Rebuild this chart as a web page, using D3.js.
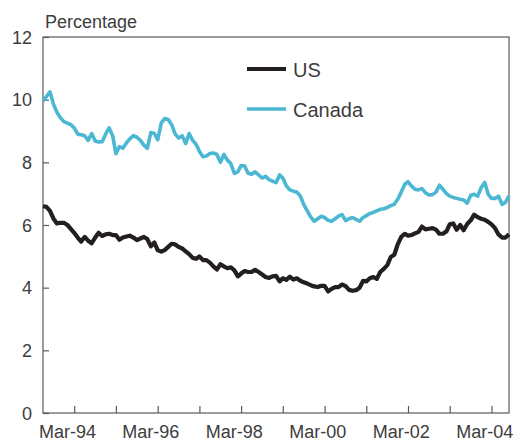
<!DOCTYPE html>
<html>
<head>
<meta charset="utf-8">
<script src="https://cdn.jsdelivr.net/npm/d3@7"></script>
<style>
  body { margin: 0; background: #fff; }
  svg { display: block; font-family: "Liberation Sans", Arial, Helvetica, sans-serif; }
  .tick-label { font-size: 18px; fill: #3d3d3d; }
  .legend-label { font-size: 20px; fill: #3d3d3d; }
</style>
</head>
<body>
<svg id="chart" width="516" height="442"></svg>
<script>
// monthly series, Jun-1993 .. Aug-2004
var firstMonth = new Date(1993, 5, 1);
var lastMonth = new Date(2004, 7, 1);

var us = [
  6.60, 6.58, 6.45, 6.20, 6.05, 6.07, 6.07, 6.00, 5.87, 5.75,
  5.60, 5.47, 5.62, 5.50, 5.42, 5.60, 5.75, 5.65, 5.70, 5.72,
  5.68, 5.68, 5.53, 5.60, 5.63, 5.66, 5.60, 5.52, 5.57, 5.62,
  5.55, 5.32, 5.44, 5.20, 5.15, 5.20, 5.30, 5.40, 5.38, 5.30,
  5.25, 5.16, 5.07, 4.95, 4.92, 5.00, 4.88, 4.88, 4.80, 4.68,
  4.58, 4.75, 4.68, 4.62, 4.65, 4.55, 4.36, 4.45, 4.53, 4.50,
  4.50, 4.57, 4.50, 4.42, 4.34, 4.31, 4.36, 4.38, 4.20, 4.30,
  4.25, 4.35, 4.26, 4.30, 4.22, 4.17, 4.13, 4.08, 4.04, 4.02,
  4.06, 4.06, 3.88, 3.96, 4.02, 4.02, 4.10, 4.05, 3.93, 3.90,
  3.92, 4.00, 4.22, 4.20, 4.30, 4.34, 4.28, 4.50, 4.60, 4.72,
  4.98, 5.05, 5.38, 5.62, 5.72, 5.66, 5.68, 5.73, 5.78, 5.95,
  5.86, 5.88, 5.90, 5.85, 5.72, 5.72, 5.80, 6.02, 6.05, 5.85,
  6.00, 5.83, 6.03, 6.15, 6.33, 6.25, 6.20, 6.17, 6.10, 6.02,
  5.90, 5.70, 5.60, 5.60, 5.70
];

var canada = [
  9.95, 10.10, 10.25, 9.85, 9.60, 9.42, 9.30, 9.25, 9.20, 9.10,
  8.90, 8.88, 8.85, 8.70, 8.92, 8.68, 8.65, 8.66, 8.90, 9.10,
  8.85, 8.28, 8.50, 8.45, 8.62, 8.75, 8.85, 8.80, 8.70, 8.55,
  8.45, 8.95, 8.92, 8.72, 9.25, 9.40, 9.37, 9.20, 8.90, 8.78,
  8.85, 8.60, 8.92, 8.70, 8.57, 8.35, 8.18, 8.20, 8.28, 8.30,
  8.25, 8.00, 8.25, 8.07, 7.96, 7.65, 7.70, 7.90, 7.88, 7.65,
  7.62, 7.70, 7.60, 7.50, 7.55, 7.45, 7.40, 7.35, 7.60, 7.50,
  7.25, 7.12, 7.08, 7.05, 6.93, 6.65, 6.45, 6.25, 6.12, 6.20,
  6.28, 6.24, 6.15, 6.12, 6.20, 6.28, 6.33, 6.14, 6.20, 6.24,
  6.18, 6.12, 6.24, 6.30, 6.37, 6.40, 6.45, 6.50, 6.52, 6.56,
  6.62, 6.66, 6.82, 7.05, 7.30, 7.38, 7.24, 7.14, 7.12, 7.16,
  7.03, 6.96, 6.97, 7.05, 7.27, 7.14, 7.00, 6.92, 6.88, 6.85,
  6.82, 6.80, 6.70, 6.95, 6.98, 6.92, 7.19, 7.36, 6.98, 6.85,
  6.85, 6.92, 6.66, 6.72, 6.93
];

var yTicks = [0, 2, 4, 6, 8, 10, 12];
var labelYears = [1994, 1996, 1998, 2000, 2002, 2004];
var seriesNames = ["US", "Canada"];
var seriesColors = ["#231f20", "#4bb7d2"];

var months = d3.timeMonth.range(firstMonth, d3.timeMonth.offset(lastMonth, 1));

var plotLeft = 43, plotRight = 509, plotTop = 37, plotBottom = 413;

var svg = d3.select("#chart");

var x = d3.scaleTime()
  .domain([firstMonth, lastMonth])
  .range([plotLeft, plotRight]);

var y = d3.scaleLinear()
  .domain([0, 12])
  .range([plotBottom, plotTop]);

// frame
svg.append("rect")
  .attr("x", plotLeft).attr("y", plotTop)
  .attr("width", plotRight - plotLeft).attr("height", plotBottom - plotTop)
  .attr("fill", "none")
  .attr("stroke", "#5a5a5a")
  .attr("stroke-width", 1.2);

// y ticks, pointing in
var yAxis = svg.append("g")
  .attr("transform", "translate(" + plotLeft + ",0)")
  .call(d3.axisRight(y).tickValues(yTicks).tickSize(6).tickFormat(""));

yAxis.select(".domain").remove();
yAxis.selectAll("line").attr("stroke", "#5a5a5a").attr("stroke-width", 1.2);

svg.selectAll(".ylab")
  .data(yTicks)
  .enter()
  .append("text")
    .attr("class", "tick-label ylab")
    .attr("x", 32)
    .attr("y", function(d) { return y(d) + 6.5; })
    .attr("text-anchor", "end")
    .text(function(d) { return d; });

// x ticks every March, pointing up
var marchTicks = d3.timeMonth.range(new Date(1994, 2, 1), lastMonth, 12);

var xAxis = svg.append("g")
  .attr("transform", "translate(0," + plotBottom + ")")
  .call(d3.axisTop(x).tickValues(marchTicks).tickSize(7).tickFormat(""));

xAxis.select(".domain").remove();
xAxis.selectAll("line").attr("stroke", "#5a5a5a").attr("stroke-width", 1.2);

svg.selectAll(".xlab")
  .data(labelYears)
  .enter()
  .append("text")
    .attr("class", "tick-label xlab")
    .attr("x", function(d) { return x(new Date(d, 0, 1)); })
    .attr("y", 438)
    .attr("text-anchor", "middle")
    .text(function(d) { return "Mar-" + String(d).slice(2); });

svg.append("text")
  .attr("class", "tick-label")
  .attr("x", 45).attr("y", 28)
  .text("Percentage");

// lines
var line = d3.line()
  .x(function(d, i) { return x(months[i]); })
  .y(function(d) { return y(d); });

svg.append("path")
  .datum(canada)
  .attr("fill", "none")
  .attr("stroke", seriesColors[1])
  .attr("stroke-width", 3.6)
  .attr("stroke-linejoin", "round")
  .attr("d", line);

svg.append("path")
  .datum(us)
  .attr("fill", "none")
  .attr("stroke", seriesColors[0])
  .attr("stroke-width", 4.2)
  .attr("stroke-linejoin", "round")
  .attr("d", line);

// legend
var legend = svg.selectAll(".legend")
  .data(seriesNames)
  .enter()
  .append("g")
    .attr("class", "legend")
    .attr("transform", function(d, i) { return "translate(247," + (69 + i * 40) + ")"; });

legend.append("line")
  .attr("x1", 0).attr("x2", 39)
  .attr("y1", 0).attr("y2", 0)
  .attr("stroke", function(d, i) { return seriesColors[i]; })
  .attr("stroke-width", function(d, i) { return i == 0 ? 4.2 : 3.6; });

legend.append("text")
  .attr("class", "legend-label")
  .attr("x", 46).attr("y", 7.5)
  .text(function(d) { return d; });
</script>
</body>
</html>
